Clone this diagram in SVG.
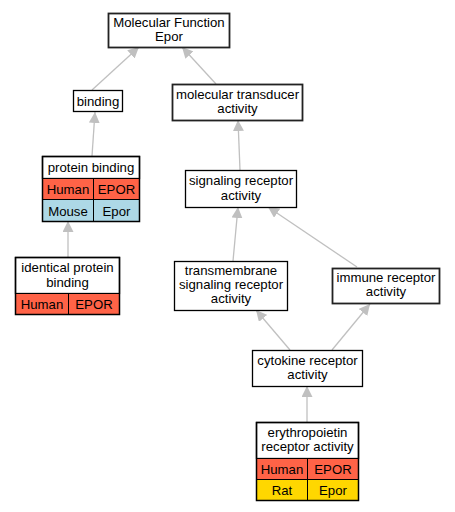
<svg xmlns="http://www.w3.org/2000/svg" width="455" height="512" viewBox="0 0 455 512">
<defs>
<style>
text{font-family:"Liberation Sans",Arial,sans-serif;font-size:13.2px;text-anchor:middle;fill:#000}
.b{fill:#fff;stroke:#000;stroke-width:1.3}
.g{fill:#fff;stroke:#222;stroke-width:1.8}
.h{fill:#ff6347;stroke:#000;stroke-width:1}
.m{fill:#add8e6;stroke:#000;stroke-width:1}
.r{fill:#ffd700;stroke:#000;stroke-width:1}
.o{fill:none;stroke:#000;stroke-width:1.5}
.e{stroke:#c0c0c0;stroke-width:1.3;fill:none;marker-end:url(#a)}
</style>
<marker id="a" viewBox="0 0 10 10" refX="10" refY="5" markerWidth="11" markerHeight="11" markerUnits="userSpaceOnUse" orient="auto">
<path d="M0,0 L10,5 L0,10 Z" fill="#c0c0c0"/>
</marker>
</defs>
<rect width="455" height="512" fill="#fff"/>
<g id="edges">
<path class="e" d="M92,90 L139,47"/>
<path class="e" d="M216,84 L182,47"/>
<path class="e" d="M92,156 L95,112"/>
<path class="e" d="M68,257 L68,221"/>
<path class="e" d="M240,170 L238,120"/>
<path class="e" d="M233,261 L238,207"/>
<path class="e" d="M357,267 L268,207"/>
<path class="e" d="M290,350 L256,310"/>
<path class="e" d="M332,350 L370,304"/>
<path class="e" d="M307,422 L307,386"/>
</g>
<g id="n_mf">
<rect class="g" x="108.5" y="13.5" width="121" height="34"/>
<text x="169" y="26.5">Molecular Function</text>
<text x="169" y="40.5">Epor</text>
</g>
<g id="n_binding">
<rect class="b" x="73.5" y="90.5" width="49" height="21"/>
<text x="98" y="105.5">binding</text>
</g>
<g id="n_mta">
<rect class="g" x="172.5" y="84.5" width="130" height="36"/>
<text x="237.5" y="98.5">molecular transducer</text>
<text x="237.5" y="112.5">activity</text>
</g>
<g id="n_pb">
<rect class="b" x="42.5" y="156.5" width="97" height="22"/>
<rect class="h" x="42.5" y="178.5" width="51" height="21"/>
<rect class="h" x="93.5" y="178.5" width="46" height="21"/>
<rect class="m" x="42.5" y="199.5" width="51" height="22"/>
<rect class="m" x="93.5" y="199.5" width="46" height="22"/>
<rect class="o" x="42.5" y="156.5" width="97" height="65"/>
<text x="91" y="171.5">protein binding</text>
<text x="68" y="193.5">Human</text>
<text x="116.5" y="193.5">EPOR</text>
<text x="68" y="215.5">Mouse</text>
<text x="116.5" y="215.5">Epor</text>
</g>
<g id="n_ipb">
<rect class="b" x="15.5" y="257.5" width="104" height="36"/>
<rect class="h" x="15.5" y="293.5" width="53" height="21"/>
<rect class="h" x="68.5" y="293.5" width="51" height="21"/>
<rect class="o" x="15.5" y="257.5" width="104" height="57"/>
<text x="67.5" y="271.5">identical protein</text>
<text x="67.5" y="286.5">binding</text>
<text x="42" y="308.5">Human</text>
<text x="94" y="308.5">EPOR</text>
</g>
<g id="n_sra">
<rect class="b" x="185.5" y="170.5" width="111" height="37"/>
<text x="241" y="184.5">signaling receptor</text>
<text x="241" y="199.5">activity</text>
</g>
<g id="n_tsra">
<rect class="b" x="174.5" y="261.5" width="113" height="49"/>
<text x="231" y="274.5">transmembrane</text>
<text x="231" y="288.5">signaling receptor</text>
<text x="231" y="302.5">activity</text>
</g>
<g id="n_ira">
<rect class="g" x="332.5" y="268.5" width="107" height="35"/>
<text x="386" y="281.5">immune receptor</text>
<text x="386" y="295.5">activity</text>
</g>
<g id="n_cra">
<rect class="b" x="252.5" y="350.5" width="110" height="36"/>
<text x="307.5" y="364.5">cytokine receptor</text>
<text x="307.5" y="378.5">activity</text>
</g>
<g id="n_era">
<rect class="b" x="256.5" y="422.5" width="102" height="36"/>
<rect class="h" x="256.5" y="458.5" width="51" height="21"/>
<rect class="h" x="307.5" y="458.5" width="51" height="21"/>
<rect class="r" x="256.5" y="479.5" width="51" height="21"/>
<rect class="r" x="307.5" y="479.5" width="51" height="21"/>
<rect class="o" x="256.5" y="422.5" width="102" height="78"/>
<text x="307.5" y="436.5">erythropoietin</text>
<text x="307.5" y="450.5">receptor activity</text>
<text x="282" y="473.5">Human</text>
<text x="333" y="473.5">EPOR</text>
<text x="282" y="494.5">Rat</text>
<text x="333" y="494.5">Epor</text>
</g>
</svg>
